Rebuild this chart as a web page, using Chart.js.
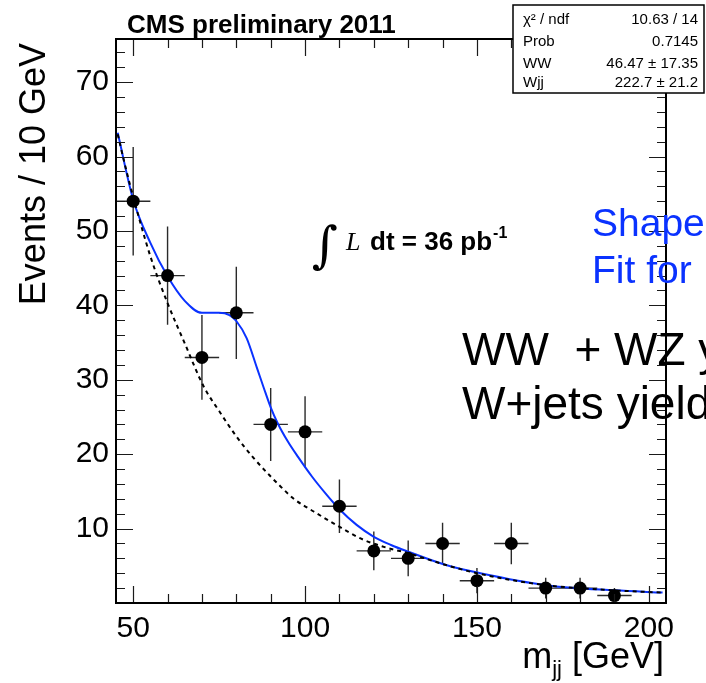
<!DOCTYPE html>
<html>
<head>
<meta charset="utf-8">
<script src="https://cdn.jsdelivr.net/npm/chart.js@4"></script>
<style>
  html, body { margin: 0; padding: 0; background: #fff; }
  canvas { display: block; }
</style>
</head>
<body>
<canvas id="fitChart" width="706" height="683"></canvas>
<script>
// m_jj bins (GeV) and events per 10 GeV, with their error bars
const binCenters = [50, 60, 70, 80, 90, 100, 110, 120, 130, 140, 150, 160, 170, 180, 190];
const eventCounts = [54, 44, 33, 39, 24, 23, 13, 7, 6, 8, 3, 8, 2, 2, 1];
const countErrors = [7.3, 6.6, 5.7, 6.2, 4.9, 4.8, 3.6, 2.6, 2.4, 2.8, 1.7, 2.8, 1.4, 1.4, 1.0];
const binHalfWidth = 5;

// full shape fit (blue)
const fitMass = [45.5, 50, 55, 60, 65, 70, 75, 78, 80, 83, 86, 88, 90, 92, 95, 98, 102, 106, 110, 115, 120, 125, 130, 141, 151, 170, 190, 204];
const fitValues = [63.2, 54.2, 48.4, 43.9, 40.6, 39.0, 39.0, 38.7, 37.9, 35.6, 31.6, 28.9, 26.3, 24.2, 21.7, 19.6, 17.0, 14.7, 12.6, 10.5, 8.9, 7.8, 6.9, 5.1, 4.0, 2.4, 1.7, 1.4];

// W+jets component (dashed)
const bkgMass = [45.5, 47.7, 50, 55, 60, 65, 70.5, 75, 80, 85, 90, 93, 97, 102.5, 109, 117, 124, 130, 141, 151, 170, 190, 204];
const bkgValues = [63.0, 58.7, 54.6, 46.6, 40.3, 34.9, 29.1, 25.8, 22.4, 19.5, 17.0, 15.6, 13.9, 12.3, 10.5, 8.5, 7.4, 6.7, 5.1, 3.9, 2.4, 1.7, 1.4];

const xTickValues = [50, 100, 150, 200];
const yTickValues = [10, 20, 30, 40, 50, 60, 70];

const statsRows = [
  ['χ² / ndf', '10.63 / 14'],
  ['Prob', '0.7145'],
  ['WW', '46.47 ± 17.35'],
  ['Wjj', '222.7 ± 21.2']
];

const SANS = '"Liberation Sans", Arial, Helvetica, sans-serif';
const SERIF = '"Liberation Serif", "DejaVu Serif", serif';
const BLUE = '#0a32ff';

const rootStyle = {
  id: 'rootStyle',
  beforeDatasetsDraw(chart) {
    const { ctx, scales: { x, y } } = chart;
    ctx.save();
    ctx.strokeStyle = '#2a2a2a';
    ctx.lineWidth = 1.4;
    ctx.beginPath();
    binCenters.forEach((m, i) => {
      const px = x.getPixelForValue(m);
      const py = y.getPixelForValue(eventCounts[i]);
      ctx.moveTo(x.getPixelForValue(m - binHalfWidth), py);
      ctx.lineTo(x.getPixelForValue(m + binHalfWidth), py);
      ctx.moveTo(px, y.getPixelForValue(eventCounts[i] + countErrors[i]));
      ctx.lineTo(px, y.getPixelForValue(Math.max(0, eventCounts[i] - countErrors[i])));
    });
    ctx.stroke();
    ctx.restore();
  },
  afterDraw(chart) {
    const { ctx, chartArea: a, scales: { x, y } } = chart;
    ctx.save();

    // ticks on all four sides
    ctx.strokeStyle = '#1a1a1a';
    ctx.lineWidth = 1.2;
    ctx.beginPath();
    for (let m = 50; m <= 200; m += 10) {
      const px = Math.round(x.getPixelForValue(m)) + 0.5;
      const len = m % 50 === 0 ? 17 : 9;
      ctx.moveTo(px, a.bottom); ctx.lineTo(px, a.bottom - len);
      ctx.moveTo(px, a.top); ctx.lineTo(px, a.top + len);
    }
    for (let v = 2; v < 76; v += 2) {
      const py = Math.round(y.getPixelForValue(v)) + 0.5;
      const len = v % 10 === 0 ? 17 : 9;
      ctx.moveTo(a.left, py); ctx.lineTo(a.left + len, py);
      ctx.moveTo(a.right, py); ctx.lineTo(a.right - len, py);
    }
    ctx.stroke();

    // frame
    ctx.strokeStyle = '#000';
    ctx.lineWidth = 2;
    ctx.strokeRect(a.left, a.top, a.right - a.left, a.bottom - a.top);

    ctx.fillStyle = '#000';
    ctx.textBaseline = 'alphabetic';

    // title
    ctx.textAlign = 'left';
    ctx.font = 'bold 26px ' + SANS;
    ctx.fillText('CMS preliminary 2011', 127, 33);

    // axis titles
    ctx.save();
    ctx.translate(45, 43);
    ctx.rotate(-Math.PI / 2);
    ctx.textAlign = 'right';
    ctx.font = '36px ' + SANS;
    ctx.fillText('Events / 10 GeV', 0, 0);
    ctx.restore();

    ctx.textAlign = 'right';
    ctx.font = '36px ' + SANS;
    const unit = ' [GeV]';
    const unitW = ctx.measureText(unit).width;
    ctx.fillText(unit, 664, 668);
    ctx.font = '22px ' + SANS;
    const subW = ctx.measureText('jj').width;
    ctx.fillText('jj', 664 - unitW, 676);
    ctx.font = '36px ' + SANS;
    ctx.fillText('m', 664 - unitW - subW, 668);

    // luminosity
    ctx.textAlign = 'left';
    ctx.font = 'italic 50px "DejaVu Serif", serif';
    ctx.fillText('∫', 312, 262);
    ctx.font = 'italic 26px ' + SERIF;
    ctx.fillText('L', 346, 250);
    ctx.font = 'bold 26px ' + SANS;
    ctx.fillText('dt = 36 pb', 370, 250);
    const lw = ctx.measureText('dt = 36 pb').width;
    ctx.font = 'bold 16px ' + SANS;
    ctx.fillText('-1', 370 + lw + 1, 238);

    // fit description
    ctx.fillStyle = BLUE;
    ctx.font = '39px ' + SANS;
    ctx.fillText('Shape', 592, 236);
    ctx.fillText('Fit for', 592, 283);
    ctx.fillStyle = '#000';
    ctx.font = '46px ' + SANS;
    ctx.fillText('WW  + WZ yield', 462, 365);
    ctx.fillText('W+jets yield', 462, 419);

    // stats box
    ctx.fillStyle = '#fff';
    ctx.fillRect(513, 5, 191, 88);
    ctx.strokeStyle = '#000';
    ctx.lineWidth = 1.5;
    ctx.strokeRect(513, 5, 191, 88);
    ctx.fillStyle = '#000';
    ctx.font = '15px ' + SANS;
    const rowBase = [24, 46, 68, 87];
    statsRows.forEach((row, i) => {
      ctx.textAlign = 'left';
      ctx.fillText(row[0], 523, rowBase[i]);
      ctx.textAlign = 'right';
      ctx.fillText(row[1], 698, rowBase[i]);
    });

    ctx.restore();
  }
};

const toPoints = (xs, ys) => xs.map((m, i) => ({ x: m, y: ys[i] }));

new Chart(document.getElementById('fitChart'), {
  type: 'line',
  data: {
    datasets: [
      {
        label: 'Data',
        data: toPoints(binCenters, eventCounts),
        showLine: false,
        pointRadius: 6.5,
        pointBackgroundColor: '#000',
        pointBorderColor: '#000',
        pointBorderWidth: 0
      },
      {
        label: 'W+jets',
        data: toPoints(bkgMass, bkgValues),
        borderColor: '#000',
        borderWidth: 2,
        borderDash: [4, 4],
        pointRadius: 0,
        fill: false,
        cubicInterpolationMode: 'monotone'
      },
      {
        label: 'Fit',
        data: toPoints(fitMass, fitValues),
        borderColor: BLUE,
        borderWidth: 2,
        pointRadius: 0,
        fill: false,
        cubicInterpolationMode: 'monotone'
      }
    ]
  },
  options: {
    responsive: false,
    animation: false,
    devicePixelRatio: 1,
    layout: { padding: { left: 0, top: 39, right: 40, bottom: 0 } },
    plugins: {
      legend: { display: false },
      tooltip: { enabled: false },
      title: { display: false }
    },
    scales: {
      x: {
        type: 'linear',
        min: 45,
        max: 205,
        afterBuildTicks: s => { s.ticks = xTickValues.map(v => ({ value: v })); },
        afterFit: s => { s.height = 80; },
        grid: { display: false, drawTicks: false },
        border: { display: false },
        ticks: {
          color: '#000',
          font: { family: SANS, size: 30 },
          padding: 8,
          maxRotation: 0,
          autoSkip: false
        }
      },
      y: {
        type: 'linear',
        min: 0,
        max: 75.8,
        afterBuildTicks: s => { s.ticks = yTickValues.map(v => ({ value: v })); },
        afterFit: s => { s.width = 116; },
        grid: { display: false, drawTicks: false },
        border: { display: false },
        ticks: {
          color: '#000',
          font: { family: SANS, size: 30 },
          padding: 7
        }
      }
    }
  },
  plugins: [rootStyle]
});
</script>
</body>
</html>
